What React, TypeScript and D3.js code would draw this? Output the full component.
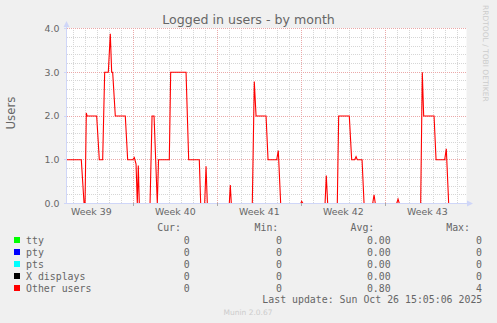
import React from "react";
import * as d3 from "d3";

// ---- data ----
const times: string[] = [
  "2025-09-23T10:24", "2025-09-24T16:00", "2025-09-24T21:30", "2025-09-24T23:30",
  "2025-09-25T02:00", "2025-09-25T03:30", "2025-09-25T22:45", "2025-09-26T04:00",
  "2025-09-26T10:45", "2025-09-26T14:45", "2025-09-26T22:00", "2025-09-27T02:00",
  "2025-09-27T04:45", "2025-09-27T06:45", "2025-09-27T12:00", "2025-09-28T08:00",
  "2025-09-28T12:45", "2025-09-28T22:45", "2025-09-29T02:00", "2025-09-29T05:30",
  "2025-09-29T08:00", "2025-09-29T10:00", "2025-09-29T12:00", "2025-09-30T09:30",
  "2025-09-30T13:30", "2025-09-30T17:30", "2025-10-01T00:00", "2025-10-01T02:30",
  "2025-10-02T00:00", "2025-10-02T02:45", "2025-10-03T09:30", "2025-10-03T14:45",
  "2025-10-04T12:00", "2025-10-04T14:45", "2025-10-04T22:45", "2025-10-05T01:30",
  "2025-10-05T04:00", "2025-10-07T00:00", "2025-10-07T02:00", "2025-10-07T04:00",
  "2025-10-08T22:00", "2025-10-09T02:00", "2025-10-09T05:30", "2025-10-10T01:30",
  "2025-10-10T05:30", "2025-10-10T22:45", "2025-10-11T02:00", "2025-10-11T06:45",
  "2025-10-12T22:45", "2025-10-13T00:45", "2025-10-13T03:30", "2025-10-14T23:30",
  "2025-10-15T02:00", "2025-10-15T04:45", "2025-10-16T00:00", "2025-10-16T02:45",
  "2025-10-17T00:00", "2025-10-17T04:45", "2025-10-17T10:45", "2025-10-17T13:30",
  "2025-10-17T16:00", "2025-10-18T01:30", "2025-10-18T05:30", "2025-10-18T22:45",
  "2025-10-19T01:30", "2025-10-19T04:00", "2025-10-20T22:45", "2025-10-21T01:30",
  "2025-10-21T04:00", "2025-10-22T22:45", "2025-10-23T02:00", "2025-10-23T04:45",
  "2025-10-24T01:30", "2025-10-24T05:30", "2025-10-24T22:45", "2025-10-25T02:00",
  "2025-10-25T06:45", "2025-10-26T18:24",
];
const otherUsers: number[] = [
  1, 1, 0, 0,
  2.07, 2, 2, 1,
  1, 3, 3, 3.88,
  3, 3, 2, 2,
  1, 1, 1.05, 0.9,
  0, 0.87, 0, 0,
  2, 2, 0, 1,
  1, 3, 3, 1,
  1, 0, 0, 0.85,
  0, 0, 0.42, 0,
  0, 2.79, 2, 2,
  1, 1, 1.21, 0,
  0, 0.05, 0, 0,
  0.64, 0, 0, 2,
  2, 1, 1, 1.07,
  1, 1, 0, 0,
  0.2, 0, 0, 0.1,
  0, 0, 3, 2,
  2, 1, 1, 1.25,
  0, 0,
];
const domainStart = "2025-09-23T10:24";
const domainEnd = "2025-10-26T18:24";
const yTicks: number[] = [0, 1, 2, 3, 4];

const legendNames: string[] = ["tty", "pty", "pts", "X displays", "Other users"];
const legendColors: string[] = ["#00ff00", "#0000ff", "#00ffff", "#000000", "#ff0000"];
const curVals: string[] = ["0", "0", "0", "0", "0"];
const minVals: string[] = ["0", "0", "0", "0", "0"];
const avgVals: string[] = ["0.00", "0.00", "0.00", "0.00", "0.80"];
const maxVals: string[] = ["0", "0", "0", "0", "4"];
const headers: string[] = ["Cur:", "Min:", "Avg:", "Max:"];

const parse = (s: string) => new Date(s + ":00Z");

export default function App() {
  const W = 497, H = 323;
  const x = d3.scaleUtc().domain([parse(domainStart), parse(domainEnd)]).range([66.5, 466.5]);
  const y = d3.scaleLinear().domain([0, 4]).range([203.5, 28.5]);
  const px = (v: number) => Math.floor(v) + 0.5;

  const data = times.map((t, i) => ({ t: parse(t), v: otherUsers[i] }));
  const line = d3.line<{ t: Date; v: number }>().x(d => x(d.t)).y(d => y(d.v));

  const [d0, d1] = x.domain() as Date[];
  const days = d3.utcDay.range(d0, d1);
  const mondays = d3.utcMonday.range(d3.utcMonday.floor(d0), d1);
  const minorY = d3.range(1, 20).map(i => i * 0.2).filter(v => Math.abs(v - Math.round(v)) > 1e-6);
  const fmtWeek = d3.utcFormat("Week %V");

  const font = "DejaVu Sans, sans-serif";
  const mono = "DejaVu Sans Mono, monospace";
  const fg = "#666666";
  const minorCol = "#d6d6d6";
  const majorCol = "#eaa8a8";

  const rowY = [240, 252, 264, 276, 288];
  const colRight = [189.7, 282, 390.7, 482];
  const headRight = [181, 278.3, 374.3, 470];
  const cols = [curVals, minVals, avgVals, maxVals];

  return (
    <svg width={W} height={H} style={{ position: "absolute", left: 0, top: 0, background: "#f0f0f0" }}>
      <rect x={0} y={0} width={W} height={H} fill="#f0f0f0" />
      <rect x={66.5} y={28} width={400} height={175.5} fill="#ffffff" />
      {/* minor grid */}
      {minorY.map((v, i) => (
        <line key={"my" + i} x1={67} x2={467} y1={px(y(v))} y2={px(y(v))} stroke={minorCol} strokeDasharray="1,1" />
      ))}
      {days.filter(d => d.getUTCDay() !== 1).map((d, i) => (
        <line key={"mx" + i} x1={px(x(d))} x2={px(x(d))} y1={28} y2={203} stroke={minorCol} strokeDasharray="1,1" />
      ))}
      {/* major grid */}
      {yTicks.filter(v => v > 0).map((v, i) => (
        <line key={"My" + i} x1={67} x2={467} y1={px(y(v))} y2={px(y(v))} stroke={majorCol} strokeDasharray="1,1" />
      ))}
      {mondays.filter(d => x(d) > 67).map((d, i) => (
        <line key={"Mx" + i} x1={px(x(d))} x2={px(x(d))} y1={28} y2={203} stroke={majorCol} strokeDasharray="1,1" />
      ))}
      {/* data line */}
      <path d={line(data) || ""} fill="none" stroke="#ff0000" strokeWidth={1.1} />
      {/* axes */}
      <line x1={66} x2={469} y1={203.5} y2={203.5} stroke="#cfd6f8" />
      <line x1={66.5} x2={66.5} y1={204} y2={25} stroke="#cfd6f8" />
      <path d="M467,200.5 L473,203.5 L467,206.5 Z" fill="#cfd6f8" />
      <path d="M63.5,27 L66.5,21 L69.5,27 Z" fill="#cfd6f8" />
      {mondays.filter(d => x(d) > 67).map((d, i) => (
        <line key={"tk" + i} x1={px(x(d))} x2={px(x(d))} y1={203} y2={206} stroke="#aaaaaa" />
      ))}
      {yTicks.map((v, i) => (
        <line key={"ty" + i} x1={64} x2={66} y1={px(y(v))} y2={px(y(v))} stroke="#cfd6f8" />
      ))}
      {/* tick labels */}
      {yTicks.map((v, i) => (
        <text key={"yl" + i} x={59.5} y={y(v) + 3.3} textAnchor="end" fontFamily={font} fontSize={9.4} fill={fg}>
          {v.toFixed(1)}
        </text>
      ))}
      {mondays.map((d, i) => {
        const mid = d3.utcHour.offset(d, 84);
        const cx = x(mid);
        if (cx < 66 || cx > 467) return null;
        return (
          <text key={"xl" + i} x={cx} y={215} textAnchor="middle" fontFamily={font} fontSize={9.4} fill={fg}>
            {fmtWeek(mid)}
          </text>
        );
      })}
      {/* titles */}
      <text x={248.5} y={24} textAnchor="middle" fontFamily={font} fontSize={12.6} fill={fg}>
        Logged in users - by month
      </text>
      <text transform="translate(15,113) rotate(-90)" textAnchor="middle" fontFamily={font} fontSize={11.8} fill={fg}>
        Users
      </text>
      <text transform="translate(483,5) rotate(90)" textAnchor="start" fontFamily={font} fontSize={7.5} fill="#cccccc">
        RRDTOOL / TOBI OETIKER
      </text>
      {/* legend */}
      {headers.map((h, i) => (
        <text key={"h" + i} x={headRight[i]} y={231} textAnchor="end" fontFamily={mono} fontSize={9.9} fill={fg}>
          {h}
        </text>
      ))}
      {legendNames.map((n, r) => (
        <g key={"lg" + r}>
          <rect x={14} y={rowY[r] - 3} width={6} height={6} fill={legendColors[r]} />
          <text x={26} y={rowY[r] + 3.5} fontFamily={mono} fontSize={9.9} fill={fg} style={{ whiteSpace: "pre" }}>
            {n}
          </text>
          {cols.map((c, ci) => (
            <text key={ci} x={colRight[ci]} y={rowY[r] + 3.5} textAnchor="end" fontFamily={mono} fontSize={9.9} fill={fg}>
              {c[r]}
            </text>
          ))}
        </g>
      ))}
      <text x={482.3} y={303.3} textAnchor="end" fontFamily={mono} fontSize={9.9} fill={fg} style={{ whiteSpace: "pre" }}>
        Last update: Sun Oct 26 15:05:06 2025
      </text>
      <text x={248} y={314.5} textAnchor="middle" fontFamily={font} fontSize={7.5} fill="#cccccc">
        Munin 2.0.67
      </text>
    </svg>
  );
}
